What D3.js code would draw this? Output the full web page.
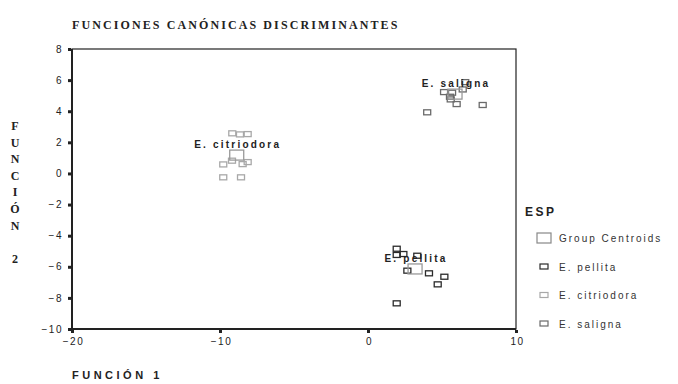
<!DOCTYPE html>
<html>
<head>
<meta charset="utf-8">
<script src="https://cdn.jsdelivr.net/npm/d3@7"></script>
<style>
  body { margin: 0; background: #fff; }
  svg { display: block; }
  .tick-label { font-family: Arial, "Liberation Sans", sans-serif; font-size: 10px; fill: #222; letter-spacing: 1.5px; }
  .serif { font-family: "Times New Roman", "Liberation Serif", serif; font-weight: bold; fill: #222; }
  .sans-bold { font-family: Arial, "Liberation Sans", sans-serif; font-weight: bold; fill: #222; }
  .legend-text { font-family: Arial, "Liberation Sans", sans-serif; font-size: 10px; fill: #333; letter-spacing: 2px; }
</style>
</head>
<body>
<svg id="chart" width="678" height="384"></svg>
<script>
const xTicks = [-20, -10, 0, 10];
const yTicks = [-10, -8, -6, -4, -2, 0, 2, 4, 6, 8];

const pellita = [[1.94, -4.84], [1.94, -5.24], [2.39, -5.18], [3.33, -5.29], [2.66, -6.25],
  [4.12, -6.42], [5.16, -6.64], [4.71, -7.13], [1.94, -8.35]];
const citriodora = [[-9.17, 2.58], [-8.65, 2.51], [-8.13, 2.53], [-9.78, 0.58], [-9.19, 0.82],
  [-8.47, 0.60], [-8.13, 0.73], [-9.78, -0.25], [-8.58, -0.25]];
const saligna = [[6.57, 5.87], [6.40, 5.40], [5.14, 5.23], [5.68, 5.19], [5.54, 4.93],
  [5.59, 4.76], [5.99, 4.46], [7.75, 4.40], [4.00, 3.93]];

const groups = ['E. pellita', 'E. citriodora', 'E. saligna'];
const centroidX = [3.18, -8.87, 5.88];
const centroidY = [-6.14, 1.18, 5.10];
const groupColors = ['#2b2b2b', '#a8a8a8', '#6a6a6a'];

const legendLabels = ['Group Centroids', 'E. pellita', 'E. citriodora', 'E. saligna'];

const svg = d3.select('#chart');

const x = d3.scaleLinear().domain([-20, 10]).range([72, 516]);
const y = d3.scaleLinear().domain([-10, 8]).range([329, 49]);

// title
svg.append('text')
    .attr('class', 'serif')
    .attr('x', 72)
    .attr('y', 29)
    .attr('font-size', 12)
    .attr('letter-spacing', 2.1)
    .text('FUNCIONES CANÓNICAS DISCRIMINANTES');

// plot frame
svg.append('rect')
    .attr('x', x(-20))
    .attr('y', y(8))
    .attr('width', x(10) - x(-20))
    .attr('height', y(-10) - y(8))
    .attr('fill', 'none')
    .attr('stroke', '#222')
    .attr('stroke-width', 1.2);

svg.append('path')
    .attr('d', `M${x(-20)},${y(8)}V${y(-10)}H${x(10)}`)
    .attr('fill', 'none')
    .attr('stroke', '#222')
    .attr('stroke-width', 2);

// y axis ticks + labels
const yAxis = d3.axisLeft(y).tickValues(yTicks).tickSize(3).tickPadding(6);
const gy = svg.append('g').attr('transform', `translate(${x(-20) - 1},0)`).call(yAxis);
gy.select('.domain').remove();
gy.selectAll('.tick line').attr('stroke', '#222').attr('stroke-width', 3);
gy.selectAll('.tick text').attr('class', 'tick-label').attr('font-family', null).attr('font-size', null)
    .attr('fill', null).attr('x', -8);

// x axis ticks + labels
const xAxis = d3.axisBottom(x).tickValues(xTicks).tickSize(3).tickPadding(5);
const gx = svg.append('g').attr('transform', `translate(0,${y(-10) + 1})`).call(xAxis);
gx.select('.domain').remove();
gx.selectAll('.tick line').attr('stroke', '#222').attr('stroke-width', 3);
gx.selectAll('.tick text').attr('class', 'tick-label').attr('font-family', null).attr('font-size', null)
    .attr('fill', null).attr('dx', 1);

// axis titles
svg.append('text')
    .attr('class', 'sans-bold')
    .attr('x', 72)
    .attr('y', 379)
    .attr('font-size', 11)
    .attr('letter-spacing', 3.5)
    .text('FUNCIÓN 1');

const yTitle = ['F', 'U', 'N', 'C', 'I', 'Ó', 'N', '', '2'];
svg.append('g').selectAll('text')
    .data(yTitle)
    .join('text')
    .attr('class', 'serif')
    .attr('font-size', 12)
    .attr('text-anchor', 'middle')
    .attr('x', 15)
    .attr('y', (d, i) => 130 + i * 16.6)
    .text(d => d);

// points
const seriesPoints = [pellita, citriodora, saligna];
const small = {w: 7, h: 5};
const big = {w: 14, h: 10};

seriesPoints.forEach((pts, gi) => {
  svg.append('g').selectAll('rect')
      .data(pts)
      .join('rect')
      .attr('x', d => x(d[0]) - small.w / 2)
      .attr('y', d => y(d[1]) - small.h / 2)
      .attr('width', small.w)
      .attr('height', small.h)
      .attr('fill', 'none')
      .attr('stroke', groupColors[gi])
      .attr('stroke-width', 1.3);
});

// centroids
svg.append('g').selectAll('rect')
    .data(groups)
    .join('rect')
    .attr('x', (d, i) => x(centroidX[i]) - big.w / 2)
    .attr('y', (d, i) => y(centroidY[i]) - big.h / 2)
    .attr('width', big.w)
    .attr('height', big.h)
    .attr('fill', 'none')
    .attr('stroke', '#999')
    .attr('stroke-width', 1.3);

// group labels
svg.append('g').selectAll('text')
    .data(groups)
    .join('text')
    .attr('class', 'sans-bold')
    .attr('font-size', 10)
    .attr('letter-spacing', 2.2)
    .attr('text-anchor', 'middle')
    .attr('x', (d, i) => x(centroidX[i]) + 1)
    .attr('y', (d, i) => y(centroidY[i]) - 7)
    .text(d => d);

// legend
svg.append('text')
    .attr('class', 'sans-bold')
    .attr('x', 525)
    .attr('y', 216)
    .attr('font-size', 12)
    .attr('letter-spacing', 2.5)
    .text('ESP');

const legendColors = ['#888'].concat(groupColors);
const lg = svg.append('g').selectAll('g')
    .data(legendLabels)
    .join('g')
    .attr('transform', (d, i) => `translate(544,${238 + i * 28.5})`);

lg.append('rect')
    .attr('x', (d, i) => i === 0 ? -7 : -4)
    .attr('y', (d, i) => i === 0 ? -5 : -2.5)
    .attr('width', (d, i) => i === 0 ? 14 : 8)
    .attr('height', (d, i) => i === 0 ? 10 : 5)
    .attr('fill', 'none')
    .attr('stroke', (d, i) => legendColors[i])
    .attr('stroke-width', 1.2);

lg.append('text')
    .attr('class', 'legend-text')
    .attr('x', 15)
    .attr('y', 4)
    .text(d => d);
</script>
</body>
</html>
